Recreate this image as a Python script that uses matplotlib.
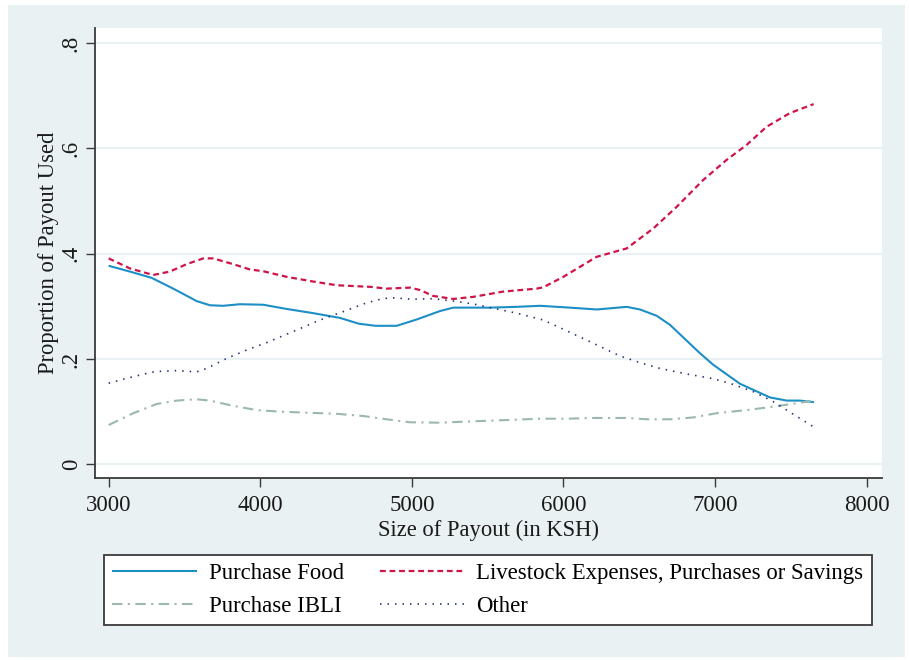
import matplotlib
matplotlib.use("Agg")
import matplotlib.pyplot as plt
from matplotlib.patches import Rectangle

# Smoothed shares of payout by size of payout (KSH)
food_x = [3000, 3140, 3284, 3430, 3580, 3668, 3756, 3866, 4020, 4174, 4350, 4526,
          4650, 4760, 4900, 5032, 5185, 5273, 5400, 5515, 5691, 5845, 6043, 6219,
          6417, 6505, 6615, 6702, 6790, 6900, 6988, 7164, 7362, 7472, 7560, 7652]
food_y = [.377, .366, .354, .333, .310, .302, .301, .304, .303, .295, .287, .278,
          .267, .263, .263, .275, .291, .2975, .2975, .2975, .299, .301, .2975, .294,
          .299, .294, .282, .265, .241, .211, .189, .153, .127, .121, .121, .118]

livestock_x = [3000, 3140, 3294, 3404, 3514, 3624, 3690, 3822, 3932, 4020, 4174, 4350,
               4504, 4724, 4834, 4988, 5053, 5141, 5273, 5405, 5603, 5823, 5866, 5999,
               6219, 6417, 6593, 6747, 6922, 7076, 7208, 7340, 7494, 7650]
livestock_y = [.391, .372, .3595, .366, .380, .391, .391, .380, .370, .3666, .356, .347,
               .340, .337, .3336, .3355, .331, .3197, .314, .318, .328, .3336, .336, .356,
               .394, .410, .448, .489, .540, .578, .6065, .641, .667, .684]

ibli_x = [3000, 3162, 3316, 3448, 3580, 3668, 3822, 3976, 4130, 4306, 4500, 4680,
          4834, 4988, 5185, 5405, 5625, 5845, 6021, 6197, 6417, 6549, 6702, 6856,
          7010, 7208, 7384, 7560, 7650]
ibli_y = [.0746, .097, .1145, .121, .1235, .121, .111, .103, .100, .098, .096, .0917,
          .0855, .0798, .079, .0817, .084, .0866, .0866, .088, .088, .0855, .0855, .089,
          .097, .103, .1094, .117, .121]

other_x = [3000, 3162, 3305, 3448, 3580, 3646, 3778, 3910, 4042, 4240, 4394, 4548,
           4680, 4768, 4856, 5009, 5141, 5273, 5405, 5559, 5691, 5867, 6010, 6197,
           6373, 6505, 6637, 6813, 6988, 7098, 7252, 7384, 7505, 7650]
other_y = [.154, .1665, .176, .178, .1755, .182, .201, .217, .231, .255, .274, .29,
           .3045, .312, .3165, .3134, .3146, .310, .3045, .295, .287, .274, .255, .2298,
           .2057, .193, .182, .1715, .1626, .1538, .138, .119, .097, .071]

labels = ["Purchase Food", "Livestock Expenses, Purchases or Savings",
          "Purchase IBLI", "Other"]
x_ticks = [3000, 4000, 5000, 6000, 7000, 8000]
y_ticks = [0, .2, .4, .6, .8]
y_tick_labels = ["0", ".2", ".4", ".6", ".8"]

plt.rcParams["font.family"] = ["Liberation Serif", "DejaVu Serif"]

W, H = 909, 660
fig = plt.figure(figsize=(W / 100, H / 100), dpi=100, facecolor="white")

bg = "#EAF1F3"
fig.patches.append(Rectangle((8 / W, 3 / H), 897 / W, 652 / H,
                             transform=fig.transFigure, facecolor=bg,
                             edgecolor="none", zorder=-10))

ax = fig.add_axes([95 / W, (H - 478) / H, (882 - 95) / W, (478 - 28) / H])
ax.set_zorder(1)
ax.set_facecolor("white")

for v in y_ticks:
    ax.axhline(v, color=bg, lw=1.6, zorder=1)

c_food = "#1C8FC6"
c_live = "#CF1448"
c_ibli = "#9BB8AE"
c_other = "#27336F"

h_food, = ax.plot(food_x, food_y, color=c_food, lw=1.5, solid_capstyle="butt",
                  zorder=3)
h_live, = ax.plot(livestock_x, livestock_y, color=c_live, lw=1.6,
                  linestyle=(0, (2.6, 1.7)), zorder=3)
h_ibli, = ax.plot(ibli_x, ibli_y, color=c_ibli, lw=1.5,
                  linestyle=(0, (5.0, 2.6, 1.0, 2.6)), zorder=3)
h_other, = ax.plot(other_x, other_y, color=c_other, lw=1.2,
                   linestyle=(0, (0.9, 3.6)), zorder=3)

ax.set_xlim(2910, 8101)
ax.set_ylim(-0.026, 0.8285)
ax.set_xticks(x_ticks)
ax.set_yticks(y_ticks)
ax.set_yticklabels(y_tick_labels, rotation=90, va="center")

for s in ["top", "right"]:
    ax.spines[s].set_visible(False)
for s in ["left", "bottom"]:
    ax.spines[s].set_color("#3A3A3A")
    ax.spines[s].set_linewidth(1.3)

ax.tick_params(axis="both", direction="out", length=6.5, width=1.0,
               color="#3A3A3A", labelsize=16.5, labelcolor="#1A1A1A")
ax.tick_params(axis="x", pad=5.5)
ax.tick_params(axis="y", pad=3)

ax.set_xlabel("Size of Payout (in KSH)", fontsize=16.3, color="#1A1A1A", labelpad=3)
ax.set_ylabel("Proportion of Payout Used", fontsize=16.3, color="#1A1A1A", labelpad=1)

# column-major fill: Food / IBLI in the first column, Livestock / Other in the second
leg = fig.legend([h_food, h_ibli, h_live, h_other],
                 [labels[0], labels[2], labels[1], labels[3]],
                 ncol=2, loc="center",
                 bbox_to_anchor=(488 / W, (H - 590) / H),
                 fontsize=16.4, frameon=True, fancybox=False, shadow=False,
                 facecolor="white", edgecolor="#3A3A3A", framealpha=1,
                 handlelength=3.7, handletextpad=0.55, columnspacing=1.55,
                 labelspacing=0.5, borderpad=0.35)
leg.get_frame().set_linewidth(1.3)

fig.savefig("out.png", dpi=100, facecolor="white")
